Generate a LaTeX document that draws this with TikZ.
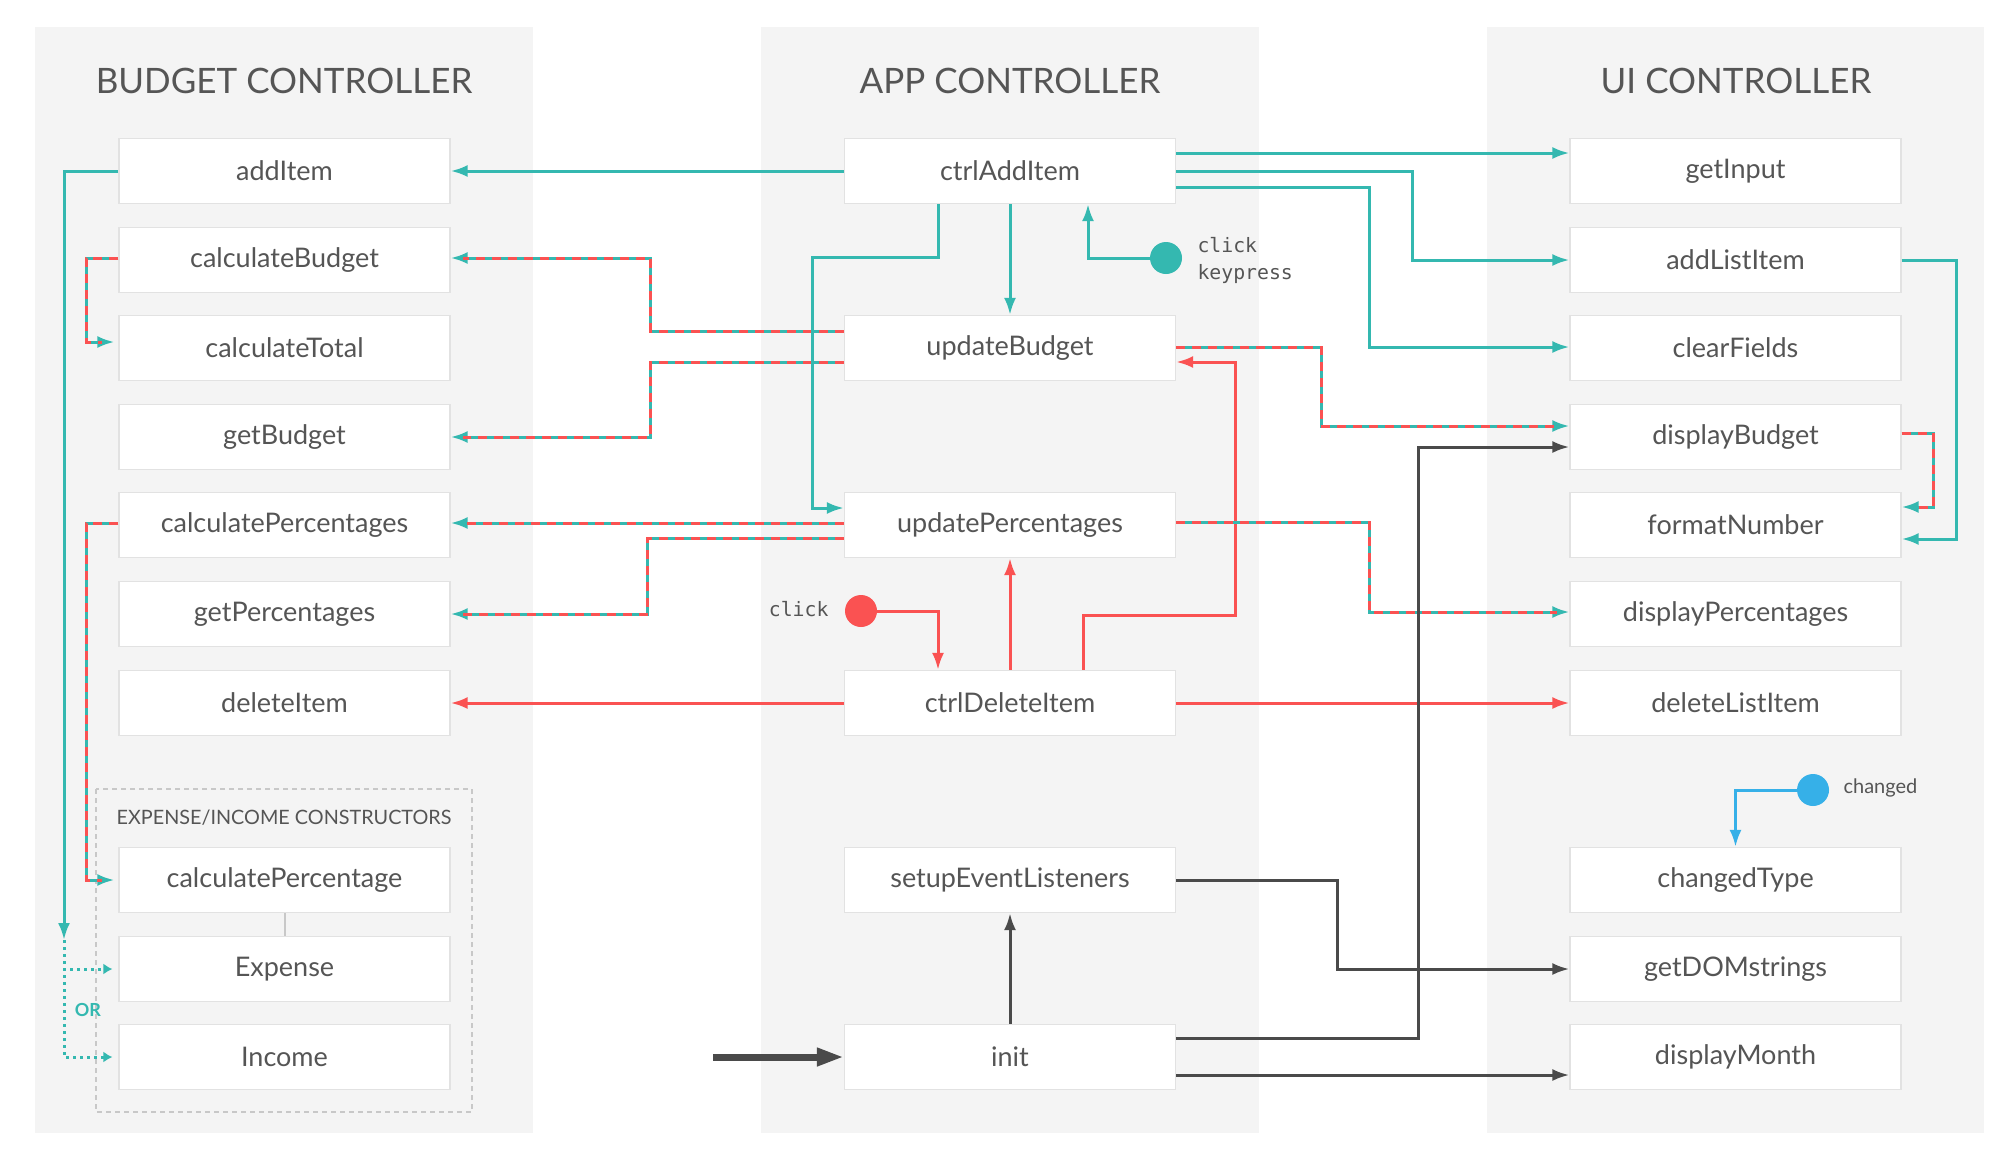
\documentclass[tikz,border=0pt]{standalone}
\usepackage{fontspec}
\setmainfont{Lato}
\setmonofont{DejaVu Sans Mono}
\usetikzlibrary{arrows.meta}
\pgfdeclarelayer{bg}
\pgfsetlayers{bg,main}
\definecolor{panel}{HTML}{F4F4F4}
\definecolor{rim}{HTML}{E2E2E2}
\definecolor{frame}{HTML}{C8C8C8}
\definecolor{ink}{HTML}{555555}
\definecolor{tealc}{HTML}{34B8B0}
\definecolor{coral}{HTML}{FA5252}
\definecolor{dgray}{HTML}{4A4A4A}
\definecolor{skyc}{HTML}{36B0E8}

\tikzset{
  box/.style={draw=rim, fill=white, line width=1.2pt, minimum width=331pt,
    minimum height=65pt, inner sep=0pt, text=ink, font=\fontsize{27}{31}\selectfont},
  ttl/.style={text=ink, font=\fontsize{35}{41}\selectfont},
  head/.style={-{Latex[length=17pt,width=12pt]}},
  tl/.style={draw=tealc, line width=3pt, head},
  rd/.style={draw=coral, line width=3pt, head},
  gr/.style={draw=dgray, line width=3pt, head},
  bl/.style={draw=skyc, line width=3pt, head},
  dd/.style={tl, postaction={draw=coral, -, dash pattern=on 9pt off 7pt, shorten >=12pt}},
  tdot/.style={draw=tealc, line width=3pt, dash pattern=on 3pt off 4pt,
    -{Latex[length=9pt,width=11pt]}},
  dot/.style={circle, minimum size=32pt, inner sep=0pt},
  evt/.style={text=ink, font=\ttfamily\fontsize{19.8}{24}\selectfont},
}

\begin{document}
\begin{tikzpicture}[x=1pt, y=-1pt]
  \useasboundingbox (0,0) rectangle (2012,1154);

  \begin{pgfonlayer}{bg}
    \fill[panel] (35,27) rectangle (533,1133);
    \fill[panel] (761,27) rectangle (1259,1133);
    \fill[panel] (1487,27) rectangle (1984,1133);
    \draw[frame, line width=1.2pt, dash pattern=on 5pt off 4pt] (96,789) rectangle (472,1112);
  \end{pgfonlayer}

  \node (t1) [ttl] at (284,81) {BUDGET CONTROLLER};
  \node (t2) [ttl] at (1010,81) {APP CONTROLLER};
  \node (t3) [ttl] at (1736,81) {UI CONTROLLER};

    \node (b1) [box] at (284.5,171) {addItem};
    \node (b2) [box] at (284.5,260) {calculateBudget};
    \node (b3) [box] at (284.5,348) {calculateTotal};
    \node (b4) [box] at (284.5,437) {getBudget};
    \node (b5) [box] at (284.5,525) {calculatePercentages};
    \node (b6) [box] at (284.5,614) {getPercentages};
    \node (b7) [box] at (284.5,703) {deleteItem};

  \node (k0) [text=ink, font=\fontsize{19.8}{24}\selectfont] at (284,818) {EXPENSE/INCOME CONSTRUCTORS};
    \node (c1) [box] at (284.5,880) {calculatePercentage};
    \node (c2) [box] at (284.5,969) {Expense};
    \node (c3) [box] at (284.5,1057) {Income};

    \node (a1) [box] at (1010,171) {ctrlAddItem};
    \node (a2) [box] at (1010,348) {updateBudget};
    \node (a3) [box] at (1010,525) {updatePercentages};
    \node (a4) [box] at (1010,703) {ctrlDeleteItem};
    \node (a5) [box] at (1010,880) {setupEventListeners};
    \node (a6) [box] at (1010,1057) {init};

    \node (u1) [box] at (1735.5,171) {getInput};
    \node (u2) [box] at (1735.5,260) {addListItem};
    \node (u3) [box] at (1735.5,348) {clearFields};
    \node (u4) [box] at (1735.5,437) {displayBudget};
    \node (u5) [box] at (1735.5,525) {formatNumber};
    \node (u6) [box] at (1735.5,614) {displayPercentages};
    \node (u7) [box] at (1735.5,703) {deleteListItem};
    \node (u8) [box] at (1735.5,880) {changedType};
    \node (u9) [box] at (1735.5,969) {getDOMstrings};
    \node (u10) [box] at (1735.5,1057) {displayMonth};

  \node (e1) [dot, fill=tealc] at (1166,258) {};
  \node (l1) [evt, anchor=west] at (1194,245) {click};
  \node (l2) [evt, anchor=west] at (1194,274) {keypress};
  \node (e2) [dot, fill=coral] at (861,611) {};
  \node (l3) [evt, anchor=east] at (832,609) {click};
  \node (e3) [dot, fill=skyc] at (1813,790) {};
  \node (l4) [anchor=west, text=ink, font=\fontsize{20}{24}\selectfont] at (1840,788) {changed};

  \coordinate (or) at (64,940);
  \coordinate (go) at (713,1057);

  % budget side
  \draw[frame, line width=2pt] (c1.south) -- (c2.north);
  \draw[tl] (a1.west) -- (b1.east);
  \draw[tl] (b1.west) -| (or);
  \draw[tdot] (or) |- ([xshift=-6pt]c2.west);
  \draw[tdot] (or) |- ([xshift=-6pt]c3.west);
  \node (l5) [text=tealc, font=\bfseries\fontsize{18}{22}\selectfont] at (88,1010) {OR};
  \draw[dd] ([yshift=2pt]b2.west) -- ++(-32,0) |- ([xshift=-4pt, yshift=6pt]b3.west);
  \draw[dd] ([yshift=2pt]b5.west) -- ++(-32,0) |- ([xshift=-4pt]c1.west);
  \draw[dd] ([yshift=17pt]a2.west) -- ++(-193,0) |- ([yshift=2pt]b2.east);
  \draw[dd] ([yshift=-14pt]a2.west) -- ++(-193,0) |- (b4.east);
  \draw[dd] ([yshift=2pt]a3.west) -- ([yshift=2pt]b5.east);
  \draw[dd] ([yshift=-13pt]a3.west) -- ++(-196,0) |- (b6.east);
  \draw[rd] (a4.west) -- (b7.east);

  % app side
  \draw[tl] (a1.south) -- (a2.north);
  \draw[tl] ([xshift=-72pt]a1.south) -- ++(0,53) -- ++(-126,0) |- ([yshift=17pt]a3.west);
  \draw[tl] (e1.west) -| ([xshift=78pt]a1.south);
  \draw[rd] (a4.north) -- (a3.south);
  \draw[rd] ([xshift=73pt]a4.north) -- ++(0,-54) -- ++(152,0) |- ([yshift=-14pt]a2.east);
  \draw[rd] (e2.east) -| ([xshift=-72pt]a4.north);
  \draw[gr] (a6.north) -- (a5.south);
  \draw[gr, line width=7pt, -{Triangle[length=27pt,width=17pt]}] (go) -- (a6.west);

  % ui side
  \draw[tl] ([yshift=18pt]a1.east) -- ([yshift=18pt]u1.west);
  \draw[tl] (a1.east) -- ++(236,0) |- (u2.west);
  \draw[tl] ([yshift=-16pt]a1.east) -- ++(193,0) |- ([yshift=1pt]u3.west);
  \draw[dd] ([yshift=1pt]a2.east) -- ++(145,0) |- ([yshift=11pt]u4.west);
  \draw[dd] ([yshift=3pt]a3.east) -- ++(193,0) |- ([yshift=2pt]u6.west);
  \draw[rd] (a4.east) -- (u7.west);
  \draw[dd] ([yshift=4pt]u4.east) -- ++(32,0) |- ([yshift=18pt]u5.east);
  \draw[tl] (u2.east) -- ++(55,0) |- ([yshift=-14pt]u5.east);
  \draw[bl] (e3.west) -| (u8.north);
  \draw[gr] (a5.east) -- ++(161,0) |- (u9.west);
  \draw[gr] ([yshift=19pt]a6.east) -- ++(242,0) |- ([yshift=-10pt]u4.west);
  \draw[gr] ([yshift=-18pt]a6.east) -- ([yshift=-18pt]u10.west);
\end{tikzpicture}
\end{document}
